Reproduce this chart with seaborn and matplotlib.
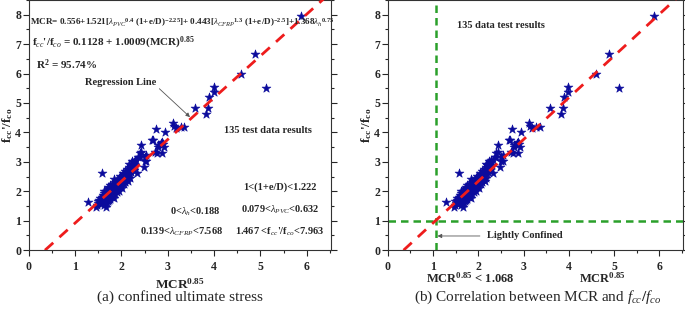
import numpy as np
import pandas as pd
import matplotlib
matplotlib.use('Agg')
import matplotlib.pyplot as plt
import seaborn as sns
from matplotlib.ticker import MultipleLocator

# MCR^0.85 (x) and fcc'/fco (y) test data
mcr = [5.87, 4.88, 4.59, 5.11, 3.99, 3.99, 3.90, 3.58, 3.87, 3.82,
       3.12, 2.75, 2.95, 3.18, 3.36, 3.28, 3.14, 2.69, 2.85, 2.80,
       2.92, 2.43, 2.88, 2.76, 2.40, 2.54, 2.36, 2.54, 2.48, 2.33,
       2.18, 1.57, 1.28, 1.46, 1.66, 2.72, 2.67, 2.43, 2.51, 2.29,
       2.40, 2.51, 2.90, 2.79, 2.87,
       1.48, 1.50, 1.52, 1.55, 1.58, 1.60, 1.62, 1.64, 1.66, 1.68,
       1.70, 1.53, 1.57, 1.49,
       1.60, 1.62, 1.65, 1.67, 1.70, 1.72, 1.74, 1.76, 1.78, 1.80,
       1.66, 1.70, 1.73, 1.82, 1.84, 1.86, 1.63, 1.68,
       1.74, 1.77, 1.79, 1.81, 1.83, 1.85, 1.87, 1.89, 1.91, 1.93,
       1.95, 1.97, 1.80, 1.86, 1.90, 1.94, 1.99, 2.01, 1.76, 1.88,
       1.92, 1.95, 1.98, 2.00, 2.02, 2.04, 2.06, 2.08, 2.10, 2.12,
       1.97, 2.03, 2.07, 2.11, 2.14, 2.05, 1.96,
       2.08, 2.12, 2.14, 2.16, 2.18, 2.20, 2.22, 2.24, 2.26, 2.28,
       2.30, 2.17, 2.23, 2.19, 2.27, 2.32, 2.21,
       1.55, 1.72, 1.84, 1.62]
fcc_fco = [7.96, 6.67, 5.99, 5.52, 5.55, 5.38, 5.21, 4.83, 4.84, 4.61,
           4.32, 4.13, 4.00, 4.14, 4.17, 4.20, 4.22, 3.73, 3.63, 3.52,
           3.52, 3.57, 3.30, 3.30, 3.29, 3.23, 3.17, 3.02, 2.83, 2.63,
           2.46, 2.62, 1.63, 1.48, 1.48, 3.35, 3.74, 3.35, 3.17, 3.06,
           3.17, 3.03, 3.60, 3.57, 3.68,
           1.52, 1.60, 1.70, 1.58, 1.66, 1.74, 1.55, 1.62, 1.72, 1.60,
           1.66, 1.78, 1.82, 1.68,
           1.88, 1.95, 1.84, 1.92, 1.80, 1.98, 1.86, 1.74, 1.92, 1.82,
           2.02, 2.06, 1.70, 1.96, 1.78, 1.90, 1.78, 1.88,
           2.10, 2.04, 2.16, 2.08, 2.20, 2.02, 2.12, 2.24, 2.06, 2.18,
           2.00, 2.14, 2.26, 2.30, 1.96, 2.28, 2.22, 2.10, 2.20, 2.18,
           2.36, 2.42, 2.32, 2.48, 2.38, 2.54, 2.44, 2.30, 2.58, 2.40,
           2.52, 2.62, 2.36, 2.50, 2.34, 2.26, 2.46,
           2.68, 2.74, 2.64, 2.82, 2.70, 2.88, 2.78, 2.94, 2.84, 2.98,
           2.90, 2.92, 3.02, 2.60, 2.72, 3.05, 2.66,
           1.64, 2.14, 2.40, 2.02]

# fitted regression line (in chart coordinates)
fit_slope = 1.42
fit_intercept = -0.50
line_x = np.array([0.35, 6.4])

mcr_limit = 1.068
fcc_limit = 1.0

df = pd.DataFrame({'mcr': mcr, 'fcc': fcc_fco})
line_df = pd.DataFrame({'x': line_x, 'y': fit_intercept + fit_slope * line_x})

sns.set_style('ticks')
plt.rcParams['font.family'] = ['Liberation Serif', 'DejaVu Serif']
plt.rcParams['font.weight'] = 'bold'
plt.rcParams['mathtext.fontset'] = 'custom'
plt.rcParams['mathtext.rm'] = 'Liberation Serif:bold'
plt.rcParams['mathtext.bf'] = 'Liberation Serif:bold'
plt.rcParams['mathtext.it'] = 'Liberation Serif:style=italic:weight=normal'

fig = plt.figure(figsize=(6.85, 3.15), dpi=100)
ax1 = fig.add_axes([0.042, 0.206, 0.441, 0.794])
ax2 = fig.add_axes([0.566, 0.206, 0.431, 0.794])

star_col = '#0b0b9c'
for ax in (ax1, ax2):
    sns.lineplot(data=line_df, x='x', y='y', ax=ax, color='#ee1c1c', lw=2,
                 dashes=False, linestyle=(0, (4, 3)), zorder=3)
    sns.scatterplot(data=df, x='mcr', y='fcc', ax=ax, marker='*', s=45,
                    color=star_col, edgecolor=star_col, linewidth=0.4, zorder=2)
    ax.set_xlim(0, 6.52)
    ax.set_ylim(0, 8.5)
    ax.xaxis.set_major_locator(MultipleLocator(1))
    ax.xaxis.set_minor_locator(MultipleLocator(0.5))
    ax.yaxis.set_major_locator(MultipleLocator(1))
    ax.yaxis.set_minor_locator(MultipleLocator(0.5))
    ax.tick_params(which='both', direction='out', labelsize=8.5, width=0.8,
                   right=True, top=True)
    ax.tick_params(axis='y', pad=1.5)
    ax.tick_params(which='major', length=4)
    ax.tick_params(which='minor', length=2.5)
    for lab in ax.get_xticklabels() + ax.get_yticklabels():
        lab.set_fontweight('bold')
    for sp in ax.spines.values():
        sp.set_linewidth(0.8)
        sp.set_color('#333333')
    ax.set_ylabel(r"f$_{\mathrm{cc}}$'/f$_{\mathrm{co}}$", fontsize=9.5,
                  fontweight='bold', labelpad=0)

ax1.set_xlabel(r'MCR$^{0.85}$', fontsize=9.5, fontweight='bold', labelpad=3)
ax2.set_xlabel('')

fs = 7.5
ax1.text(0.03, 7.72, r"MCR= 0.556+1.521[$\lambda_{PVC}$$^{0.4}$ (1+e/D)$^{-2.25}$]+ 0.443[$\lambda_{CFRP}$$^{1.3}$ (1+e/D)$^{-2.5}$]+1.368$\lambda_h$$^{0.75}$",
         fontsize=6.6, fontweight='bold', va='center', ha='left')
ax1.text(0.08, 7.04, r"f$_{cc}$'/f$_{co}$ = 0.1128 + 1.0009(MCR)$^{0.85}$",
         fontsize=8, fontweight='bold', va='center')
ax1.text(0.15, 6.29, r"R$^2$ = 95.74%", fontsize=8, fontweight='bold', va='center')
ax1.annotate('Regression Line', xy=(3.48, 4.52), xytext=(1.21, 5.68),
             fontsize=fs, fontweight='bold', va='center',
             arrowprops=dict(arrowstyle='-|>', color='#555555', lw=0.6,
                             shrinkA=0, shrinkB=0, mutation_scale=6,
                             relpos=(1.0, 0.2)))
ax1.text(4.21, 4.08, '135 test data results', fontsize=fs, fontweight='bold', va='center')
ax1.text(5.42, 2.15, '1<(1+e/D)<1.222', fontsize=fs, fontweight='bold', ha='center', va='center')
ax1.text(3.59, 1.30, r'0<$\lambda_h$<0.188', fontsize=fs, fontweight='bold', ha='center', va='center')
ax1.text(5.42, 1.36, r'0.079<$\lambda_{PVC}$<0.632', fontsize=fs, fontweight='bold', ha='center', va='center')
ax1.text(3.30, 0.62, r'0.139<$\lambda_{CFRP}$<7.568', fontsize=fs, fontweight='bold', ha='center', va='center')
ax1.text(5.42, 0.62, r"1.467 <f$_{cc}$'/f$_{co}$<7.963", fontsize=fs, fontweight='bold', ha='center', va='center')

green = '#2aa02a'
ax2.axvline(mcr_limit, color=green, lw=1.8, linestyle=(0, (3, 2)), zorder=1)
ax2.axhline(fcc_limit, color=green, lw=1.8, linestyle=(0, (3, 2)), zorder=1)
ax2.text(1.52, 7.65, '135 data test results', fontsize=fs, fontweight='bold', va='center')
ax2.annotate('Lightly Confined', xy=(1.10, 0.48), xytext=(2.2, 0.48),
             fontsize=fs, fontweight='bold', va='center',
             arrowprops=dict(arrowstyle='-|>', color='#555555', lw=0.6,
                             shrinkA=3, shrinkB=0, mutation_scale=6))
fig.text(0.686, 0.115, r'MCR$^{0.85}$ < 1.068', fontsize=9, fontweight='bold', ha='center', va='center')
fig.text(0.879, 0.115, r'MCR$^{0.85}$', fontsize=9, fontweight='bold', ha='center', va='center')

fig.text(0.263, 0.057, '(a) confined ultimate stress', fontsize=11, fontweight='normal',
         ha='center', va='center')
fig.text(0.785, 0.057, r'(b) Correlation between MCR and $f_{cc}/f_{co}$', fontsize=11,
         fontweight='normal', ha='center', va='center')

fig.savefig('out.png', dpi=100)
